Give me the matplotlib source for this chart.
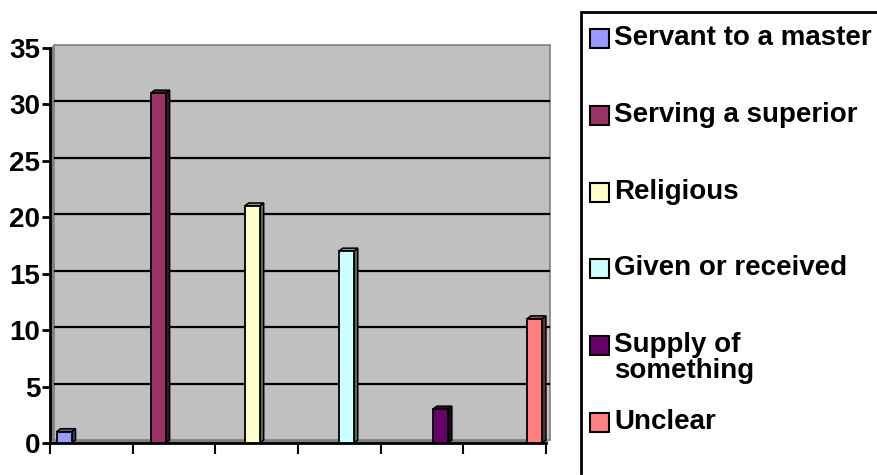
import numpy as np
import matplotlib.pyplot as plt
from matplotlib.patches import Polygon, Rectangle
from matplotlib.colors import to_rgb

plt.rcParams['font.family'] = ['Liberation Sans', 'DejaVu Sans']
plt.rcParams['font.weight'] = 'bold'

labels = ["Servant to a master", "Serving a superior", "Religious",
          "Given or received", "Supply of\nsomething", "Unclear"]
values = [1, 31, 21, 17, 3, 11]
colors = ["#9999FF", "#993366", "#FFFFCC", "#CCFFFF", "#660066", "#FF8080"]
y_ticks = [0, 5, 10, 15, 20, 25, 30, 35]

W, H = 878, 475
fig = plt.figure(figsize=(W / 100, H / 100), dpi=100)

# plot area in pixels
x0, x1, y0, y1 = 50, 546, 443, 48
ax = fig.add_axes([x0 / W, 1 - y0 / H, (x1 - x0) / W, (y0 - y1) / H])
ax.set_xlim(0, 6)
ax.set_ylim(0, 35)
ax.patch.set_visible(False)

# 3d depth offsets in data units
px_x = 6 / (x1 - x0)
px_y = 35 / (y0 - y1)
dx, dy = 4 * px_x, 3 * px_y

wall_col = "#C0C0C0"
side_col = "#808080"
# back wall, left wall, floor
ax.add_patch(Rectangle((dx, dy), 6, 35, facecolor=wall_col, edgecolor=side_col,
                       lw=1.2, zorder=0, clip_on=False))
ax.add_patch(Polygon([(0, 0), (0, 35), (dx, 35 + dy), (dx, dy)], closed=True,
                     facecolor=side_col, edgecolor='none', zorder=0.5, clip_on=False))
ax.add_patch(Polygon([(0, 0), (6, 0), (6 + dx, dy), (dx, dy)], closed=True,
                     facecolor=side_col, edgecolor='none', zorder=0.5, clip_on=False))
for t in y_ticks[1:-1]:
    ax.plot([dx, 6 + dx], [t + dy, t + dy], color='black', lw=1.6, zorder=1,
            clip_on=False, solid_capstyle='butt')

# bars with fake 3d sides
bw = 15 * px_x
pos = 0.17 + np.arange(len(values)) * 1.138
ax.bar(pos, values, width=bw, color=colors, edgecolor='black', lw=1.3, zorder=3)
for c, v, col in zip(pos, values, colors):
    rgb = np.array(to_rgb(col))
    r = c + bw / 2
    l = c - bw / 2
    ax.add_patch(Polygon([(r, 0), (r + dx, dy), (r + dx, v + dy), (r, v)], closed=True,
                         facecolor=rgb * 0.4, edgecolor='black', lw=1.1, zorder=2.5,
                         clip_on=False))
    ax.add_patch(Polygon([(l, v), (r, v), (r + dx, v + dy), (l + dx, v + dy)], closed=True,
                         facecolor=rgb * 0.6, edgecolor='black', lw=1.1, zorder=2.5,
                         clip_on=False))

ax.spines['top'].set_visible(False)
ax.spines['right'].set_visible(False)
ax.spines['left'].set_linewidth(2)
ax.spines['bottom'].set_linewidth(2)
ax.set_yticks(y_ticks)
ax.set_xticks(range(7))
ax.set_xticklabels([])
ax.tick_params(axis='y', direction='out', length=6, width=2, labelsize=20, pad=1)
ax.tick_params(axis='x', direction='out', length=8, width=1.5)
for lab in ax.get_yticklabels():
    lab.set_fontweight('bold')

# legend box: only left and top borders are inside the picture
lx, ly_top, ly_bot = 581, 12, 473
leg = fig.add_axes([0, 0, 1, 1])
leg.set_xlim(0, W)
leg.set_ylim(H, 0)
leg.axis('off')
leg.plot([lx, lx, W + 5], [ly_bot, ly_top, ly_top], color='black', lw=2,
         solid_joinstyle='miter')
for i, (lab, col) in enumerate(zip(labels, colors)):
    yc = 38 + i * 76.8
    leg.add_patch(Rectangle((590, yc - 9), 19, 19, facecolor=col, edgecolor='black', lw=1.5))
    leg.text(614, yc - 13, lab, fontsize=20, fontweight='bold', va='top', ha='left',
             linespacing=1.0)

fig.savefig("out.png", dpi=100)
